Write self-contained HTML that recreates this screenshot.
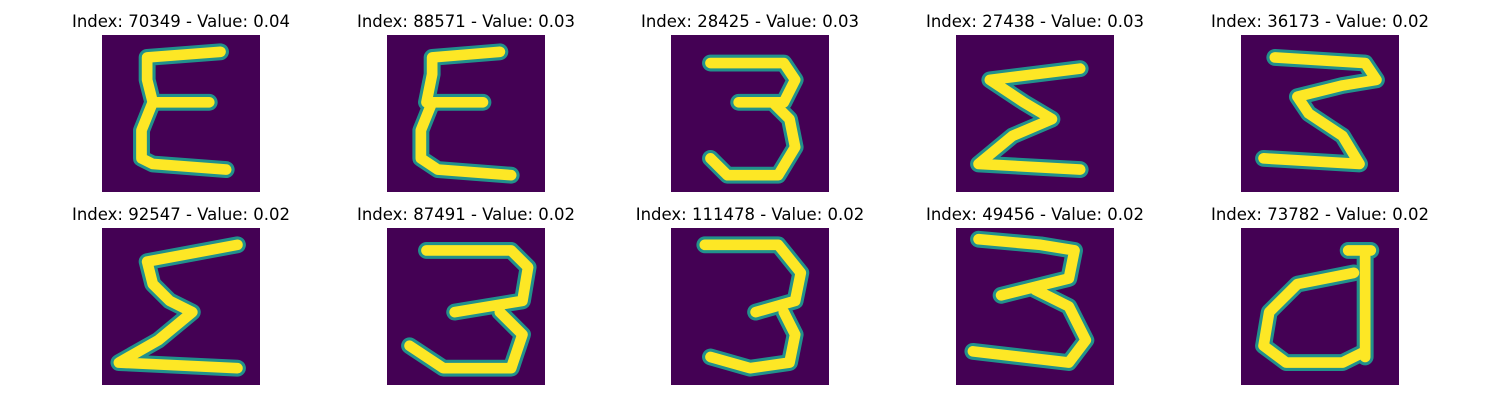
<!DOCTYPE html>
<html><head><meta charset="utf-8"><style>
body{margin:0;background:#fff;width:1500px;height:400px;overflow:hidden;font-family:"DejaVu Sans","Liberation Sans",sans-serif;}
.t{position:absolute;font-size:16.5px;color:#000;text-align:center;width:300px;white-space:nowrap}
svg.d{position:absolute;width:158px;height:157px}
</style></head><body>
<div id="root"></div>
<script>
const titles=["Index: 70349 - Value: 0.04","Index: 88571 - Value: 0.03","Index: 28425 - Value: 0.03","Index: 27438 - Value: 0.03","Index: 36173 - Value: 0.02","Index: 92547 - Value: 0.02","Index: 87491 - Value: 0.02","Index: 111478 - Value: 0.02","Index: 49456 - Value: 0.02","Index: 73782 - Value: 0.02"];
const strokes=[
"M21,3 L8,4 L8,8 L9,12 L19,12 M9,12 L7,17 L7,22 L9,23 L22,24",
"M20,3 L8,4 L8,7 L7,12 L17,12 M8,12 L6,17 L6,22 L9,24 L22,25",
"M7,5 L20,5 L22,8 L20,12 L12,12 M18,12 L21,15 L22,20 L19,25 L10,25 L7,22",
"M22,6 L6,8 L12,12 L17,15 L10,18 L4,23 L22,24",
"M6,4 L22,5 L24,8 L18,9 L10,11 L12,14 L18,18 L21,23 L4,22",
"M24,3 L8,6 L9,10 L12,13 L16,15 L10,20 L3,24 L24,25",
"M7,4 L22,4 L25,7 L24,13 L12,15 M20,15 L24,19 L22,25 L10,25 L4,21",
"M6,3 L19,3 L23,8 L22,13 L15,15 M20,15 L22,19 L21,24 L14,25 L7,23",
"M4,2 L15,3 L21,4 L20,9 L8,12 M14,11 L20,14 L23,20 L20,24 L3,22",
"M20,8 L10,10 L5,15 L4,21 L8,24 L18,24 L22,22 M22,5 L22,23 M19,4 L23,4"
];
const xs=[102,387,671,956,1241], ys=[35,228];
const root=document.getElementById('root');
for(let i=0;i<10;i++){
  const x=xs[i%5], y=ys[Math.floor(i/5)];
  const t=document.createElement('div');
  t.className='t';
  t.style.left=(x+79-150)+'px';
  t.style.top=(y-23)+'px';
  t.textContent=titles[i];
  
  
  root.appendChild(t);
  const s=document.createElementNS('http://www.w3.org/2000/svg','svg');
  s.setAttribute('class','d');
  s.setAttribute('viewBox','0 0 28 28');
  s.setAttribute('preserveAspectRatio','none');
  s.style.left=x+'px';s.style.top=y+'px';
  
  
  s.innerHTML='<rect width="28" height="28" fill="#440154"/>'+
   '<path d="'+strokes[i]+'" fill="none" stroke="#21918c" stroke-width="3.0" stroke-linecap="round" stroke-linejoin="round"/>'+
   '<path d="'+strokes[i]+'" fill="none" stroke="#fde725" stroke-width="1.9" stroke-linecap="round" stroke-linejoin="round"/>';
  root.appendChild(s);
}
</script>
</body></html>
